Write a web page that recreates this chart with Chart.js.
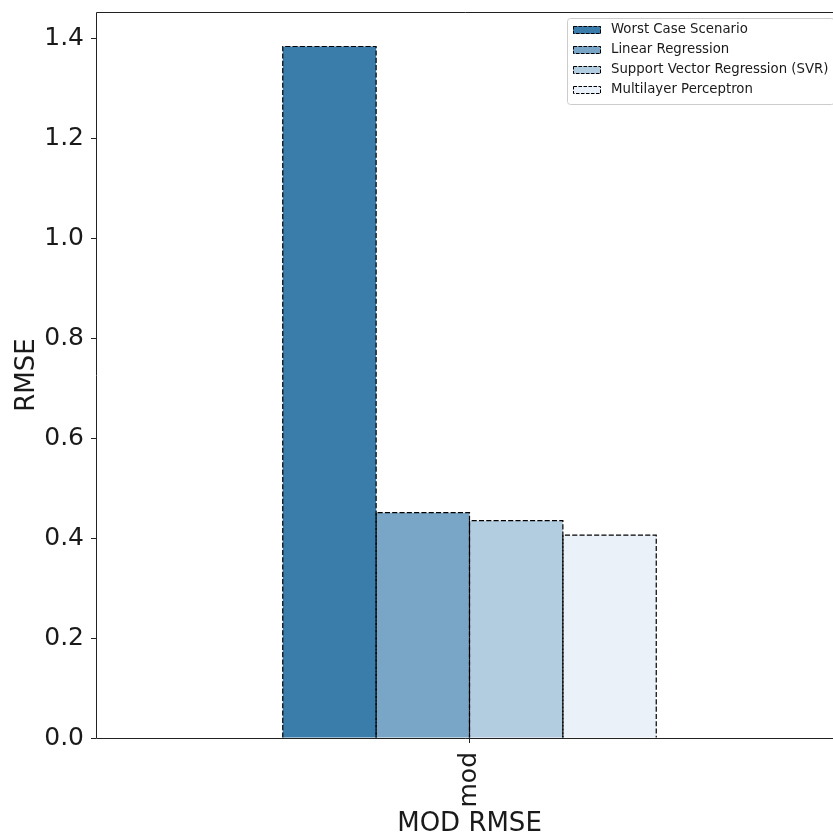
<!DOCTYPE html>
<html>
<head>
<meta charset="utf-8">
<script src="https://cdn.jsdelivr.net/npm/chart.js@4/dist/chart.umd.min.js"></script>
<style>
  html, body { margin: 0; padding: 0; background: #fff; overflow: hidden; }
  canvas { display: block; }
</style>
</head>
<body>
<canvas id="c" width="833" height="838"></canvas>
<script>
// RMSE per model on the "mod" split
const categories = ['mod'];
const seriesNames = [
  'Worst Case Scenario',
  'Linear Regression',
  'Support Vector Regression (SVR)',
  'Multilayer Perceptron'
];
const worstCase = [1.384];
const linearRegression = [0.451];
const svr = [0.435];
const mlp = [0.406];
const yTicks = [0.0, 0.2, 0.4, 0.6, 0.8, 1.0, 1.2, 1.4];
const yMax = 1.453;

const seriesValues = [worstCase, linearRegression, svr, mlp];
const colors = ['#3a7dab', '#79a6c7', '#b2cce0', '#eaf1f8'];
const FONT = '"DejaVu Sans", "Liberation Sans", sans-serif';
const TEXT = '#1a1a1a';
const DASH = [5.1, 2.2];
const PLOT_RIGHT = 843; // the plot runs a little past the right edge of the canvas

// widen the plot area past the canvas edge so the right spine is cut off
const extendRight = {
  id: 'extendRight',
  afterLayout(chart) {
    const a = chart.chartArea;
    a.right = PLOT_RIGHT;
    a.width = a.right - a.left;
    const x = chart.scales.x;
    x.right = PLOT_RIGHT;
    x.width = x.right - x.left;
    x.configure();
  }
};

// dashed black edges on every bar
const dashedOutline = {
  id: 'dashedOutline',
  afterDatasetsDraw(chart) {
    const ctx = chart.ctx;
    ctx.save();
    ctx.strokeStyle = '#000';
    ctx.lineWidth = 1.2;
    ctx.setLineDash(DASH);
    chart.data.datasets.forEach((ds, i) => {
      chart.getDatasetMeta(i).data.forEach(bar => {
        const { x, y, base, width } = bar.getProps(['x', 'y', 'base', 'width'], true);
        const l = x - width / 2, r = x + width / 2;
        ctx.beginPath();
        ctx.moveTo(l, base);
        ctx.lineTo(l, y);
        ctx.lineTo(r, y);
        ctx.lineTo(r, base);
        ctx.stroke();
      });
    });
    ctx.restore();
  }
};

// axes spines: left, top and bottom (the right one lies past the canvas edge)
const frame = {
  id: 'frame',
  afterDatasetsDraw(chart) {
    const { ctx, chartArea: a } = chart;
    ctx.save();
    ctx.strokeStyle = '#222';
    ctx.lineWidth = 1;
    ctx.setLineDash([]);
    const l = Math.round(a.left) + 0.5, t = Math.round(a.top) + 0.5;
    const r = Math.round(a.right), b = Math.round(a.bottom) + 0.5;
    ctx.beginPath();
    ctx.moveTo(r, t); ctx.lineTo(l, t); ctx.lineTo(l, b); ctx.lineTo(r, b);
    ctx.stroke();
    ctx.restore();
  }
};

// legend box in the upper right corner of the plot
const legendBox = {
  id: 'legendBox',
  afterDraw(chart) {
    const ctx = chart.ctx;
    const ds = chart.data.datasets;
    ctx.save();
    ctx.font = '13.3px ' + FONT;
    const x0 = 567.5, y0 = 18.5, rowH = 20, firstRow = 29.5;
    const patchX = 573, patchW = 28, patchH = 8, textX = 611;
    let maxW = 0;
    ds.forEach(d => { maxW = Math.max(maxW, ctx.measureText(d.label).width); });
    const w = textX - x0 + maxW + 6, h = 86;
    const rad = 3;
    ctx.beginPath();
    ctx.moveTo(x0 + rad, y0);
    ctx.lineTo(x0 + w - rad, y0);
    ctx.arcTo(x0 + w, y0, x0 + w, y0 + rad, rad);
    ctx.lineTo(x0 + w, y0 + h - rad);
    ctx.arcTo(x0 + w, y0 + h, x0 + w - rad, y0 + h, rad);
    ctx.lineTo(x0 + rad, y0 + h);
    ctx.arcTo(x0, y0 + h, x0, y0 + h - rad, rad);
    ctx.lineTo(x0, y0 + rad);
    ctx.arcTo(x0, y0, x0 + rad, y0, rad);
    ctx.closePath();
    ctx.fillStyle = 'rgba(255,255,255,0.8)';
    ctx.fill();
    ctx.strokeStyle = '#cccccc';
    ctx.lineWidth = 1;
    ctx.stroke();

    ds.forEach((d, i) => {
      const cy = Math.round(firstRow + i * rowH);
      ctx.fillStyle = d.backgroundColor;
      ctx.fillRect(patchX, cy - patchH / 2, patchW, patchH);
      ctx.setLineDash([3.5, 1.5]);
      ctx.strokeStyle = '#000';
      ctx.lineWidth = 1;
      ctx.strokeRect(patchX + 0.5, cy - patchH / 2 + 0.5, patchW - 1, patchH - 1);
      ctx.setLineDash([]);
      ctx.fillStyle = TEXT;
      ctx.textAlign = 'left';
      ctx.textBaseline = 'middle';
      ctx.fillText(d.label, textX, cy);
    });
    ctx.restore();
  }
};

new Chart(document.getElementById('c'), {
  type: 'bar',
  data: {
    labels: categories,
    datasets: seriesNames.map((name, i) => ({
      label: name,
      data: seriesValues[i],
      backgroundColor: colors[i],
      borderWidth: 0,
      categoryPercentage: 0.5,
      barPercentage: 1.0
    }))
  },
  options: {
    responsive: false,
    animation: false,
    layout: { padding: { left: 0, right: 0, top: 12, bottom: 0 } },
    plugins: { legend: { display: false }, tooltip: { enabled: false } },
    scales: {
      x: {
        offset: true,
        grid: { display: true, offset: false, drawOnChartArea: false, drawTicks: true, tickLength: 5, color: '#222' },
        border: { display: false },
        ticks: { minRotation: 90, maxRotation: 90, padding: 9, color: TEXT, font: { family: FONT, size: 25 } },
        title: { display: true, text: 'MOD RMSE', color: TEXT, font: { family: FONT, size: 26, lineHeight: 1 }, padding: { top: 0, bottom: 1 } },
        afterFit(s) { s.height = 100; s.paddingLeft = 0; s.paddingRight = 0; }
      },
      y: {
        min: 0,
        max: yMax,
        grid: { display: true, drawOnChartArea: false, drawTicks: true, tickLength: 5, color: '#222' },
        border: { display: false },
        afterBuildTicks(s) { s.ticks = yTicks.map(v => ({ value: v })); },
        ticks: { padding: 7, color: TEXT, font: { family: FONT, size: 25 }, callback: v => Number(v).toFixed(1) },
        title: { display: true, text: 'RMSE', color: TEXT, font: { family: FONT, size: 26, lineHeight: 1 }, padding: { top: 14, bottom: 0 } },
        afterFit(s) { s.width = 96; s.paddingTop = 0; s.paddingBottom = 0; }
      }
    }
  },
  plugins: [extendRight, dashedOutline, frame, legendBox]
});
</script>
</body>
</html>
